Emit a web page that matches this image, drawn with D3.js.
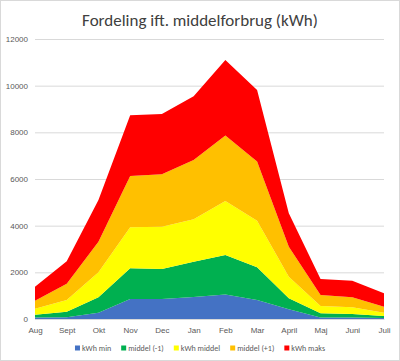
<!DOCTYPE html>
<html>
<head>
<meta charset="utf-8">
<script src="https://cdn.jsdelivr.net/npm/d3@7"></script>
<style>
  body { margin: 0; background: #fff; }
  svg { display: block; font-family: Calibri, Carlito, "Open Sans", "Liberation Sans", sans-serif; }
</style>
</head>
<body>
<div id="chart"></div>
<script>
const months = ['Aug', 'Sept', 'Okt', 'Nov', 'Dec', 'Jan', 'Feb', 'Mar', 'April', 'Maj', 'Juni', 'Juli'];
const seriesNames = ['kWh min', 'middel (-1)', 'kWh middel', 'middel (+1)', 'kWh maks'];
const seriesColors = ['#4472C4', '#00B050', '#FFFF00', '#FFC000', '#FF0000'];

const kwhMin    = [60, 80, 270, 855, 855, 940, 1045, 815, 415, 60, 60, 40];
const middelM1  = [125, 235, 660, 1315, 1285, 1515, 1700, 1400, 470, 185, 155, 90];
const kwhMiddel = [258, 500, 1070, 1765, 1815, 1825, 2315, 2000, 930, 310, 285, 140];
const middelP1  = [342, 700, 1315, 2195, 2245, 2535, 2800, 2535, 1285, 475, 430, 260];
const kwhMaks   = [600, 955, 1785, 2600, 2590, 2735, 3240, 3065, 1430, 685, 710, 570];

const yTicks = [0, 2000, 4000, 6000, 8000, 10000, 12000];

const W = 400, H = 361;
const margin = { top: 39, right: 16, bottom: 42, left: 35 };
const innerW = W - margin.left - margin.right;
const innerH = H - margin.top - margin.bottom;

const allSeries = [kwhMin, middelM1, kwhMiddel, middelP1, kwhMaks];
const table = months.map((m, i) => {
  const row = { month: m };
  seriesNames.forEach((s, j) => row[s] = allSeries[j][i]);
  return row;
});

const svg = d3.select('#chart').append('svg')
  .attr('width', W)
  .attr('height', H);

svg.append('rect')
  .attr('x', 0.5).attr('y', 0.5)
  .attr('width', W - 1).attr('height', H - 1)
  .attr('fill', '#fff')
  .attr('stroke', '#d9d9d9');

svg.append('text')
  .attr('x', W / 2)
  .attr('y', 26)
  .attr('text-anchor', 'middle')
  .attr('font-size', 17)
  .attr('fill', '#404040')
  .text('Fordeling ift. middelforbrug (kWh)');

const g = svg.append('g')
  .attr('transform', `translate(${margin.left},${margin.top})`);

const x = d3.scalePoint()
  .domain(months)
  .range([0, innerW]);

const y = d3.scaleLinear()
  .domain([0, 12000])
  .range([innerH, 0]);

// gridlines + y labels
g.append('g')
  .call(d3.axisLeft(y).tickValues(yTicks).tickFormat(d3.format('d')).tickSize(-innerW).tickPadding(7))
  .call(a => a.select('.domain').remove())
  .call(a => a.selectAll('line').attr('stroke', '#d9d9d9'))
  .call(a => a.selectAll('text').attr('fill', '#595959').attr('font-size', 8).attr('font-family', null));

const stack = d3.stack().keys(seriesNames);
const layers = stack(table);

const area = d3.area()
  .x(d => x(d.data.month))
  .y0(d => y(d[0]))
  .y1(d => y(d[1]));

g.selectAll('.layer')
  .data(layers)
  .enter().append('path')
  .attr('class', 'layer')
  .attr('d', area)
  .attr('fill', (d, i) => seriesColors[i]);

// x axis
g.append('g')
  .attr('transform', `translate(0,${innerH})`)
  .call(d3.axisBottom(x).tickSize(0).tickPadding(8))
  .call(a => a.select('.domain').attr('stroke', '#d9d9d9'))
  .call(a => a.selectAll('text').attr('fill', '#595959').attr('font-size', 8).attr('font-family', null));

// legend
const legend = svg.append('g').attr('transform', 'translate(0,348)');
const items = legend.selectAll('.item')
  .data(seriesNames)
  .enter().append('g')
  .attr('class', 'item');

items.append('rect')
  .attr('width', 5).attr('height', 5)
  .attr('y', -2.5)
  .attr('fill', (d, i) => seriesColors[i]);

items.append('text')
  .attr('x', 7)
  .attr('dy', '0.35em')
  .attr('font-size', 8)
  .attr('fill', '#595959')
  .text(d => d);

let widths = [];
items.each(function() { widths.push(this.getBBox().width); });
const gap = 10;
const total = d3.sum(widths) + gap * (widths.length - 1);
let cx = (W - total) / 2;
items.attr('transform', (d, i) => {
  const t = `translate(${cx},0)`;
  cx += widths[i] + gap;
  return t;
});
</script>
</body>
</html>
